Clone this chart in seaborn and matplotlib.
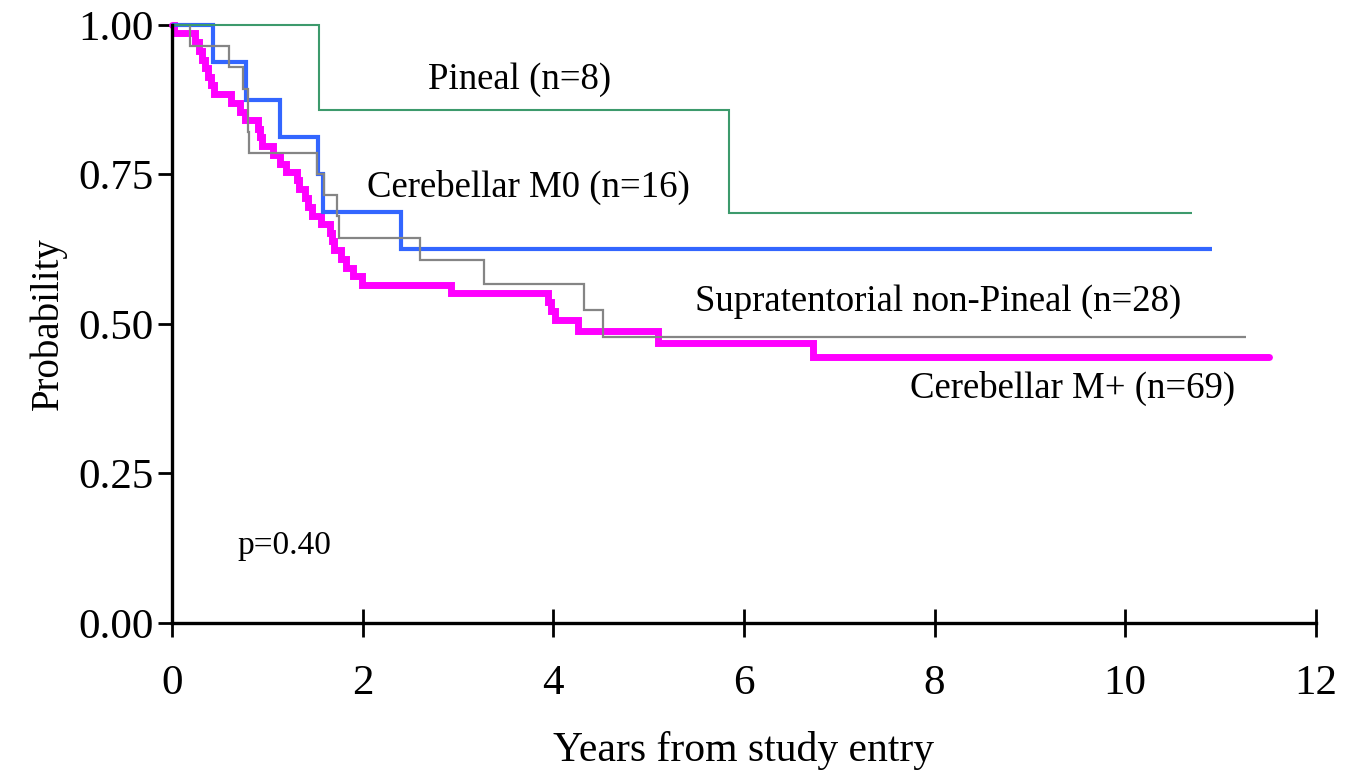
import matplotlib
matplotlib.use("Agg")
import matplotlib.pyplot as plt
import seaborn as sns
import pandas as pd

# ---- data ----
pineal_t = [0.0, 1.54, 5.84, 10.70]
pineal_s = [1.0, 0.857, 0.686, 0.686]

m0_t = [0.0, 0.43, 0.78, 1.13, 1.53, 1.59, 2.40, 10.91]
m0_s = [1.0, 0.9375, 0.875, 0.8125, 0.75, 0.6875, 0.625, 0.625]

supra_t = [0.0, 0.19, 0.60, 0.75, 0.797, 0.80, 0.81, 1.52, 1.60, 1.73, 1.755,
           2.60, 3.27, 4.32, 4.52, 11.27]
supra_s = [1.0, 0.964, 0.929, 0.893, 0.857, 0.821, 0.786, 0.750, 0.716, 0.680,
           0.643, 0.607, 0.566, 0.523, 0.479, 0.479]

mplus_t = [0.0, 0.02, 0.24, 0.29, 0.32, 0.35, 0.38, 0.41, 0.44, 0.62, 0.71, 0.77,
           0.905, 0.92, 0.95, 1.06, 1.13, 1.20, 1.31, 1.33, 1.40, 1.43, 1.47, 1.56,
           1.66, 1.68, 1.70, 1.77, 1.83, 1.90, 1.99, 2.93, 3.95, 3.98, 4.02, 4.26,
           5.10, 6.73, 11.51]
mplus_s = [1.0, 0.986, 0.971, 0.957, 0.942, 0.928, 0.913, 0.899, 0.884, 0.870,
           0.855, 0.841, 0.826, 0.812, 0.797, 0.783, 0.768, 0.754, 0.740, 0.725,
           0.711, 0.696, 0.681, 0.667, 0.652, 0.638, 0.623, 0.609, 0.594, 0.580,
           0.565, 0.552, 0.537, 0.522, 0.507, 0.488, 0.468, 0.445, 0.445]

labels = ["Pineal (n=8)", "Cerebellar M0 (n=16)",
          "Supratentorial non-Pineal (n=28)", "Cerebellar M+ (n=69)"]
p_text = "p=0.40"
x_ticks = [0, 2, 4, 6, 8, 10, 12]
y_ticks = [0.0, 0.25, 0.50, 0.75, 1.00]
y_ticklabels = ["0.00", "0.25", "0.50", "0.75", "1.00"]

sns.set_style("white")
plt.rcParams["font.family"] = ["Liberation Serif", "DejaVu Serif"]
plt.rcParams["text.color"] = "black"
plt.rcParams["axes.labelcolor"] = "black"

fig = plt.figure(figsize=(13.53, 7.78), dpi=100)
ax = fig.add_axes([0.127, 0.1992, 0.8456, 0.7688])

series = [
    (mplus_t, mplus_s, "#ff00ff", 5.0, "round"),
    (m0_t, m0_s, "#3366ff", 3.0, "butt"),
    (supra_t, supra_s, "#858585", 1.6, "butt"),
    (pineal_t, pineal_s, "#3d9a6c", 1.5, "butt"),
]
for t, s, c, lw, cap in series:
    df = pd.DataFrame({"t": t, "s": s})
    sns.lineplot(data=df, x="t", y="s", ax=ax, color=c, linewidth=lw,
                 drawstyle="steps-post", estimator=None, sort=False,
                 solid_capstyle=cap, solid_joinstyle="miter")

ax.set_xlim(0, 12)
ax.set_ylim(0, 1.0)
ax.set_xticks(x_ticks)
ax.set_xticklabels([str(v) for v in x_ticks])
ax.set_yticks(y_ticks)
ax.set_yticklabels(y_ticklabels)

for side in ["top", "right"]:
    ax.spines[side].set_visible(False)
for side in ["left", "bottom"]:
    ax.spines[side].set_linewidth(2.4)
    ax.spines[side].set_color("black")

ax.tick_params(axis="x", bottom=True, direction="inout", length=20, width=2.0,
               labelsize=31, pad=20, colors="black")
ax.tick_params(axis="y", left=True, direction="out", length=10, width=2.0,
               labelsize=31, pad=3, colors="black")

ax.set_xlabel("Years from study entry", fontsize=30, labelpad=20, color="black")
ax.set_ylabel("Probability", fontsize=28, labelpad=8, color="black")

txt_kw = dict(fontsize=26.5, ha="left", va="center", color="black")
ax.text(2.69, 0.908, labels[0], **txt_kw)
ax.text(2.05, 0.729, labels[1], **txt_kw)
ax.text(5.49, 0.537, labels[2], **txt_kw)
ax.text(7.74, 0.393, labels[3], **txt_kw)
ax.text(0.69, 0.129, p_text, fontsize=24, ha="left", va="center", color="black")

for line in ax.lines:
    line.set_clip_on(False)

fig.savefig("out.png", dpi=100, facecolor="white")
